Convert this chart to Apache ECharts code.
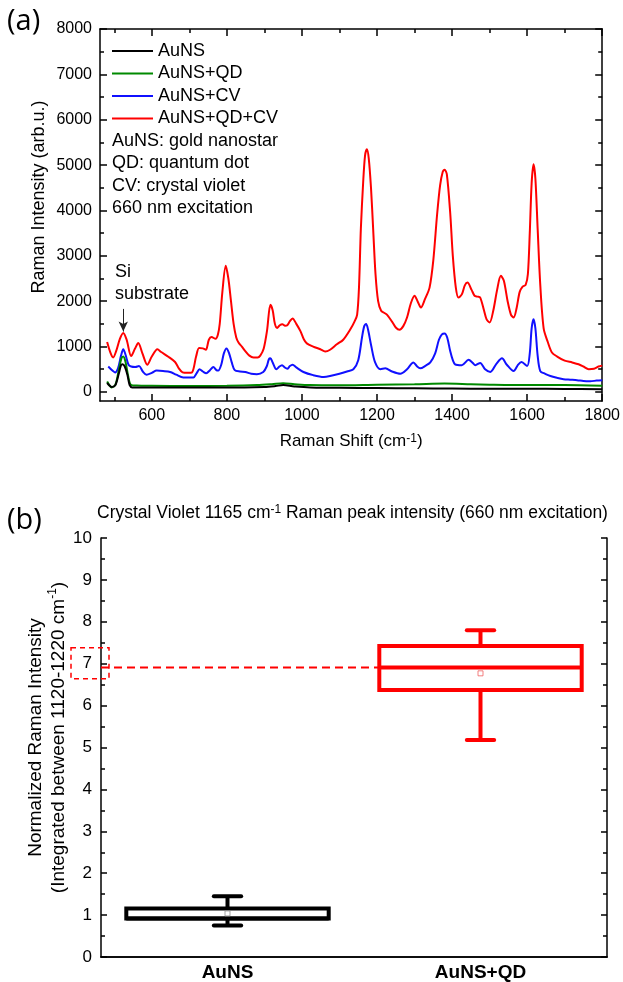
<!DOCTYPE html>
<html>
<head>
<meta charset="utf-8">
<script src="https://cdn.jsdelivr.net/npm/echarts@6/dist/echarts.min.js"></script>
<style>
html, body { margin: 0; padding: 0; background: #fff; }
#main { width: 623px; height: 982px; }
</style>
</head>
<body>
<div id="main"></div>
<script>
// (a) Raman spectra, [shift cm-1, intensity]
var spectrumAuNS = [
  [481,200],[487,140],[493,110],[503,150],[512,400],[518,590],[522,610],[528,560],[535,380],[541,150],
  [548,100],[600,95],[700,95],[800,95],[900,110],[930,130],[950,150],[980,120],[1050,90],[1100,90],
  [1200,85],[1300,80],[1400,75],[1500,70],[1600,70],[1700,65],[1800,60]
];
var spectrumAuNSQD = [
  [481,230],[487,150],[493,100],[503,160],[512,480],[519,740],[524,780],[530,660],[537,350],[544,160],
  [560,140],[600,135],[700,130],[800,135],[880,150],[920,170],[950,190],[980,170],[1020,150],[1100,145],
  [1200,160],[1300,170],[1380,185],[1450,170],[1500,160],[1600,150],[1700,150],[1800,135]
];
var spectrumAuNSCV = [
  [484,560],[495,470],[502,430],[510,520],[518,800],[524,940],[530,820],[538,600],[545,560],[556,550],
  [566,570],[576,450],[586,380],[600,420],[613,470],[630,460],[649,440],[665,380],[684,320],[700,320],
  [711,320],[720,420],[727,500],[736,450],[745,410],[755,480],[764,550],[772,480],[777,470],[785,600],
  [792,850],[799,960],[806,850],[813,650],[821,480],[835,450],[849,440],[865,400],[880,390],[897,440],
  [906,560],[912,720],[916,740],[922,650],[932,500],[940,560],[947,590],[954,540],[961,510],[968,570],
  [975,600],[985,540],[1004,440],[1030,370],[1058,330],[1075,350],[1100,400],[1120,450],[1137,500],[1150,700],
  [1160,1200],[1166,1450],[1171,1500],[1176,1380],[1185,1000],[1195,650],[1209,500],[1222,520],[1240,450],[1262,400],
  [1280,500],[1297,650],[1307,560],[1315,520],[1330,580],[1342,650],[1355,850],[1365,1150],[1373,1270],[1380,1290],
  [1387,1200],[1395,900],[1402,700],[1408,610],[1426,590],[1444,710],[1455,640],[1462,590],[1475,640],[1488,500],
  [1502,440],[1518,620],[1533,740],[1546,600],[1564,460],[1576,600],[1585,660],[1600,570],[1607,850],[1612,1400],
  [1617,1600],[1622,1400],[1628,800],[1635,460],[1648,400],[1662,350],[1680,310],[1697,280],[1715,270],[1733,260],
  [1750,240],[1768,235],[1785,250],[1800,260]
];
var spectrumAuNSQDCV = [
  [481,1100],[490,860],[497,760],[505,900],[515,1170],[524,1300],[533,1150],[545,790],[555,950],[564,1080],
  [575,850],[588,600],[600,780],[615,940],[625,880],[645,770],[662,660],[672,520],[682,430],[695,420],
  [707,430],[718,780],[726,970],[736,960],[744,930],[752,1150],[759,1210],[770,1170],[776,1260],[781,1500],
  [788,2200],[797,2780],[804,2500],[811,2000],[818,1500],[825,1200],[831,1090],[840,1000],[849,900],[860,800],
  [871,760],[882,760],[889,800],[898,950],[907,1350],[916,1920],[922,1800],[928,1500],[934,1410],[941,1470],
  [948,1490],[955,1460],[961,1470],[968,1560],[975,1620],[985,1500],[996,1340],[1005,1160],[1013,1070],[1030,1000],
  [1049,940],[1062,890],[1075,930],[1093,1050],[1110,1150],[1129,1380],[1140,1550],[1147,1700],[1152,2300],[1157,3600],
  [1163,4600],[1168,5200],[1173,5350],[1178,5150],[1184,4500],[1190,3550],[1196,2600],[1203,2000],[1211,1790],[1220,1740],
  [1227,1700],[1240,1550],[1250,1420],[1260,1370],[1270,1450],[1280,1640],[1290,1950],[1300,2120],[1308,2000],[1317,1860],
  [1328,2050],[1340,2300],[1350,2900],[1360,3900],[1368,4550],[1375,4850],[1380,4900],[1386,4800],[1395,3950],[1402,3000],
  [1410,2300],[1417,2080],[1426,2150],[1434,2350],[1441,2410],[1452,2250],[1460,2120],[1468,2100],[1475,2080],[1485,1800],
  [1492,1600],[1500,1530],[1510,1800],[1520,2250],[1530,2560],[1538,2450],[1548,2000],[1557,1700],[1564,1640],[1572,1850],
  [1580,2200],[1588,2320],[1596,2360],[1602,2600],[1607,3500],[1612,4600],[1617,5020],[1622,4700],[1628,3600],[1635,2360],
  [1644,1400],[1655,1100],[1666,870],[1680,780],[1700,690],[1720,650],[1737,610],[1750,560],[1764,500],[1778,510],
  [1790,560],[1800,580]
];
var shiftMajor = [600, 800, 1000, 1200, 1400, 1600, 1800];
var shiftMinor = [500, 700, 900, 1100, 1300, 1500, 1700];
var intensityMajor = [0, 1000, 2000, 3000, 4000, 5000, 6000, 7000, 8000];
var intensityMinor = [500, 1500, 2500, 3500, 4500, 5500, 6500, 7500];
var noteLines = ['AuNS: gold nanostar', 'QD: quantum dot', 'CV: crystal violet', '660 nm excitation'];
var siArrow = [[524, 1830], [524, 1330]];

// (b) box plot
var boxCategories = ['AuNS', 'AuNS+QD'];
var boxLow = [0.75, 5.18];
var boxQ1 = [0.92, 6.37];
var boxMedian = [0.92, 6.91];
var boxQ3 = [1.16, 7.42];
var boxHigh = [1.45, 7.80];
var boxMean = [1.04, 6.77];
var labelFrame = [7.38, 6.64];

var FONT = 'Liberation Sans';
var boxColor = ['#000000', '#ff0000'];
var meanColor = ['#8c8c8c', '#f06060'];
var supRich = { sup: { fontSize: 12, verticalAlign: 'top', lineHeight: 12, fontFamily: FONT, color: '#000' } };
var plain = function (v) { return String(v); };

var chart = echarts.init(document.getElementById('main'));

function spectrumAxis(pos, values, len, main) {
  return {
    type: 'value', gridIndex: 0, position: pos, min: 462, max: 1800,
    axisLine: { show: main, onZero: false, lineStyle: { color: '#000', width: 1.5 } },
    axisTick: { show: true, inside: true, length: len, customValues: values, lineStyle: { color: '#000', width: 1.5 } },
    axisLabel: { show: false },
    splitLine: { show: false }
  };
}
function intensityAxis(pos, values, len, main) {
  return {
    type: 'value', gridIndex: 0, position: pos, min: -200, max: 8000,
    axisLine: { show: main, onZero: false, lineStyle: { color: '#000', width: 1.5 } },
    axisTick: { show: true, inside: true, length: len, customValues: values, lineStyle: { color: '#000', width: 1.5 } },
    axisLabel: { show: false },
    splitLine: { show: false }
  };
}

var xBottom = spectrumAxis('bottom', shiftMajor, 7, true);
xBottom.axisLabel = { show: true, customValues: shiftMajor, formatter: plain, fontSize: 16, color: '#000', margin: 7, fontFamily: FONT };
xBottom.name = 'Raman Shift (cm{sup|-1})';
xBottom.nameLocation = 'middle';
xBottom.nameGap = 32;
xBottom.nameTextStyle = { fontSize: 17, color: '#000', fontFamily: FONT, rich: supRich };

var yLeft = intensityAxis('left', intensityMajor, 7, true);
yLeft.axisLabel = { show: true, customValues: intensityMajor, formatter: plain, fontSize: 16, color: '#000', margin: 8, fontFamily: FONT };
yLeft.name = 'Raman Intensity (arb.u.)';
yLeft.nameLocation = 'middle';
yLeft.nameGap = 52;
yLeft.nameMoveOverlap = false;
yLeft.nameTextStyle = { fontSize: 18, color: '#000', fontFamily: FONT, padding: [0, 0, 0, 36] };

function boxRender(params, api) {
  var i = api.value(0);
  var cx = api.coord([i, 0])[0];
  var band = api.size([1, 0])[0];
  var half = band * 0.4;
  var cap = band * 0.054;
  var yLow = api.coord([i, api.value(1)])[1];
  var yQ1 = api.coord([i, api.value(2)])[1];
  var yMed = api.coord([i, api.value(3)])[1];
  var yQ3 = api.coord([i, api.value(4)])[1];
  var yHigh = api.coord([i, api.value(5)])[1];
  var c = boxColor[i];
  var st = { stroke: c, lineWidth: 4, fill: null };
  var children = [
    { type: 'line', shape: { x1: cx, y1: yQ3, x2: cx, y2: yHigh }, style: st },
    { type: 'line', shape: { x1: cx - cap, y1: yHigh, x2: cx + cap, y2: yHigh }, style: { stroke: c, lineWidth: 4, lineCap: 'round' } },
    { type: 'line', shape: { x1: cx, y1: yQ1, x2: cx, y2: yLow }, style: st },
    { type: 'line', shape: { x1: cx - cap, y1: yLow, x2: cx + cap, y2: yLow }, style: { stroke: c, lineWidth: 4, lineCap: 'round' } },
    { type: 'rect', shape: { x: cx - half, y: yQ3, width: half * 2, height: yQ1 - yQ3 }, style: { stroke: c, lineWidth: 4, fill: '#fff' } },
    { type: 'line', shape: { x1: cx - half, y1: yMed, x2: cx + half, y2: yMed }, style: st }
  ];
  if (i === 1) {
    var gx = params.coordSys.x;
    var f1 = api.coord([i, labelFrame[0]])[1];
    var f2 = api.coord([i, labelFrame[1]])[1];
    children.unshift({ type: 'line', shape: { x1: gx, y1: yMed, x2: cx - half, y2: yMed }, style: { stroke: c, lineWidth: 2, lineDash: [8, 5] } });
    children.push({ type: 'rect', shape: { x: gx - 30, y: f1, width: 38, height: f2 - f1 }, style: { stroke: c, lineWidth: 1.5, lineDash: [5, 4], fill: null } });
  }
  return { type: 'group', children: children };
}

var boxData = boxCategories.map(function (name, i) {
  return [i, boxLow[i], boxQ1[i], boxMedian[i], boxQ3[i], boxHigh[i]];
});
var meanData = boxMean.map(function (v, i) {
  return { value: [i, v], itemStyle: { color: '#fff', borderColor: meanColor[i], borderWidth: 1 } };
});

var option = {
  animation: false,
  backgroundColor: '#fff',
  textStyle: { fontFamily: FONT },
  title: [
    { text: '(a)', left: 7, top: 7, padding: 0, textStyle: { fontSize: 29, fontWeight: 'normal', color: '#000', fontFamily: 'Open Sans' } },
    { text: '(b)', left: 7, top: 506, padding: 0, textStyle: { fontSize: 29, fontWeight: 'normal', color: '#000', fontFamily: 'Open Sans' } },
    { text: noteLines.join('\n'), left: 112, top: 130, padding: 0,
      textStyle: { fontSize: 18, fontWeight: 'normal', color: '#000', lineHeight: 22.3, fontFamily: FONT } },
    { text: 'Crystal Violet 1165 cm{sup|-1} Raman peak intensity (660 nm excitation)', left: 97, top: 504, padding: 0,
      textStyle: { fontSize: 17.5, fontWeight: 'normal', color: '#000', fontFamily: FONT, rich: supRich } }
  ],
  legend: {
    orient: 'vertical', left: 112, top: 41, padding: 0, icon: 'rect', itemWidth: 41, itemHeight: 2, itemGap: 2.5,
    data: ['AuNS', 'AuNS+QD', 'AuNS+CV', 'AuNS+QD+CV'],
    textStyle: { fontSize: 18, color: '#000', lineHeight: 20, fontFamily: FONT }
  },
  graphic: [
    { type: 'text', left: 115, top: 261, style: { text: 'Si\nsubstrate', fontSize: 18, lineHeight: 22, fill: '#000', fontFamily: FONT } }
  ],
  grid: [
    { left: 100, right: 20, top: 29, bottom: 581 },
    { left: 101, right: 16, top: 538, bottom: 24 }
  ],
  xAxis: [
    xBottom,
    spectrumAxis('bottom', shiftMinor, 4, false),
    spectrumAxis('top', shiftMajor, 7, true),
    spectrumAxis('top', shiftMinor, 4, false),
    {
      type: 'category', gridIndex: 1, position: 'bottom', data: boxCategories,
      axisLine: { lineStyle: { color: '#000', width: 1.5 } },
      axisTick: { inside: true, length: 6, alignWithLabel: true, lineStyle: { color: '#000', width: 1.5 } },
      axisLabel: { fontSize: 19, fontWeight: 'bold', color: '#000', margin: 6, fontFamily: FONT }
    },
    {
      type: 'category', gridIndex: 1, position: 'top', data: boxCategories,
      axisLine: { lineStyle: { color: '#000', width: 1.5 } },
      axisTick: { inside: true, length: 6, alignWithLabel: true, lineStyle: { color: '#000', width: 1.5 } },
      axisLabel: { show: false }
    }
  ],
  yAxis: [
    yLeft,
    intensityAxis('left', intensityMinor, 4, false),
    intensityAxis('right', intensityMajor, 7, true),
    intensityAxis('right', intensityMinor, 4, false),
    {
      type: 'value', gridIndex: 1, position: 'left', min: 0, max: 10, interval: 1,
      axisLine: { show: true, lineStyle: { color: '#000', width: 1.5 } },
      axisTick: { show: true, inside: true, length: 6, lineStyle: { color: '#000', width: 1.5 } },
      minorTick: { show: true, splitNumber: 2, length: 4, lineStyle: { color: '#000', width: 1.5 } },
      axisLabel: { fontSize: 17, color: '#000', margin: 9, fontFamily: FONT },
      splitLine: { show: false },
      name: 'Normalized Raman Intensity\n(Integrated between 1120-1220 cm{sup|-1})',
      nameLocation: 'middle', nameGap: 31, nameMoveOverlap: false,
      nameTextStyle: { fontSize: 19, color: '#000', lineHeight: 23, fontFamily: FONT, rich: supRich, padding: [0, 0, 0, 20] }
    },
    {
      type: 'value', gridIndex: 1, position: 'right', min: 0, max: 10, interval: 1,
      axisLine: { show: true, lineStyle: { color: '#000', width: 1.5 } },
      axisTick: { show: true, inside: true, length: 6, lineStyle: { color: '#000', width: 1.5 } },
      minorTick: { show: true, splitNumber: 2, length: 4, lineStyle: { color: '#000', width: 1.5 } },
      axisLabel: { show: false },
      splitLine: { show: false }
    }
  ],
  series: [
    { name: 'AuNS+QD+CV', type: 'line', xAxisIndex: 0, yAxisIndex: 0, data: spectrumAuNSQDCV, smooth: 0.3, showSymbol: false,
      color: '#ff0000', lineStyle: { width: 2 },
      markLine: { silent: true, symbol: ['none', 'arrow'], symbolSize: [7, 10], label: { show: false },
        lineStyle: { color: '#222', width: 1, type: 'solid' }, data: [[{ coord: siArrow[0] }, { coord: siArrow[1] }]] } },
    { name: 'AuNS+CV', type: 'line', xAxisIndex: 0, yAxisIndex: 0, data: spectrumAuNSCV, smooth: 0.3, showSymbol: false,
      color: '#1010ff', lineStyle: { width: 2 } },
    { name: 'AuNS+QD', type: 'line', xAxisIndex: 0, yAxisIndex: 0, data: spectrumAuNSQD, smooth: 0.3, showSymbol: false,
      color: '#008a00', lineStyle: { width: 2 } },
    { name: 'AuNS', type: 'line', xAxisIndex: 0, yAxisIndex: 0, data: spectrumAuNS, smooth: 0.3, showSymbol: false,
      color: '#000000', lineStyle: { width: 2 } },
    { type: 'custom', xAxisIndex: 4, yAxisIndex: 4, data: boxData, renderItem: boxRender,
      encode: { x: 0, y: [1, 2, 3, 4, 5] }, clip: false },
    { type: 'scatter', xAxisIndex: 4, yAxisIndex: 4, data: meanData, symbol: 'rect', symbolSize: 5, z: 5 }
  ]
};
chart.setOption(option);
</script>
</body>
</html>
